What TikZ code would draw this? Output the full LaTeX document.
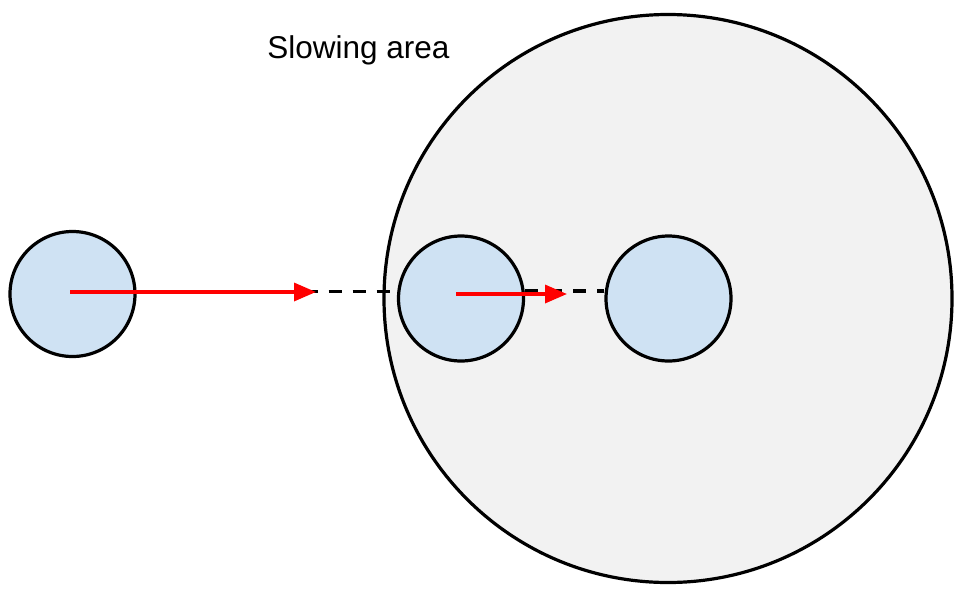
\documentclass[tikz,border=0pt]{standalone}
\usepackage{fontspec}
\setmainfont{Liberation Sans}
\usetikzlibrary{arrows.meta}
\definecolor{ballblue}{HTML}{CFE2F3}
\definecolor{areagray}{HTML}{F2F2F2}
\tikzset{
  ball/.style={circle, draw=black, fill=ballblue, line width=3.2pt, minimum size=125pt, inner sep=0pt},
  area/.style={circle, draw=black, fill=areagray, line width=3.2pt, minimum size=568pt, inner sep=0pt},
  dashline/.style={draw=black, line width=3.4pt, dash pattern=on 13pt off 11pt},
  velo/.style={draw=red, line width=3.4pt, -{Triangle[length=22pt,width=18pt]}},
}
\begin{document}
\begin{tikzpicture}[x=1pt,y=-1pt]
\useasboundingbox (0,0) rectangle (958,592);
\node[area] (big) at (668,298.5) {};
\node[anchor=base, font=\fontsize{31.5}{36}\selectfont] (lbl) at (358.5,58) {Slowing area};
\node[ball] (left) at (72.5,294) {};
\node[ball] (mid) at (461,298.5) {};
\node[ball] (right) at (668.5,298.5) {};
\coordinate (y1) at (0,291.5);
\coordinate (y2) at (0,291);
\draw[dashline] (left.east |- y1) -- (mid.west |- y1);
\draw[dashline] (mid.east |- y2) -- (right.west |- y2);
\coordinate (s1) at (70,292);
\coordinate (t1) at (316,292);
\coordinate (s2) at (456,294);
\coordinate (t2) at (567,294);
\draw[velo] (s1) -- (t1);
\draw[velo] (s2) -- (t2);
\end{tikzpicture}
\end{document}
